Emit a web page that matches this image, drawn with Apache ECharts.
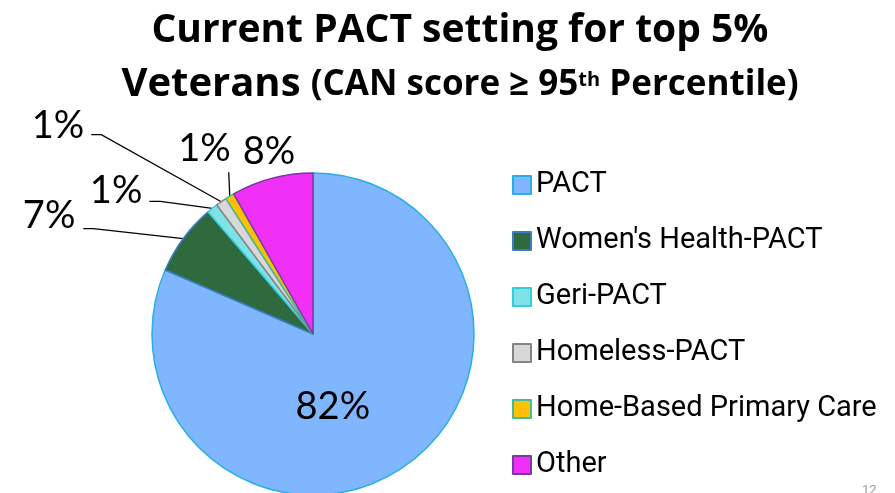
<!DOCTYPE html>
<html>
<head>
<meta charset="utf-8">
<title>Current PACT setting for top 5% Veterans</title>
<script src="https://cdn.jsdelivr.net/npm/echarts@6/dist/echarts.min.js"></script>
<style>
  html, body { margin: 0; padding: 0; background: #fff; }
  #chart { width: 895px; height: 493px; }
</style>
</head>
<body>
<div id="chart"></div>
<script>
// data
const settings = ['PACT', "Women's Health-PACT", 'Geri-PACT', 'Homeless-PACT', 'Home-Based Primary Care', 'Other']
const shares = [81.5, 7.2, 1.1, 1.1, 0.9, 8.2]

const fills = ['#7fb6fd', '#2e6a3e', '#7fe2e6', '#d8d8d8', '#ffc000', '#f030f6']
const borders = ['#29aee4', '#3b7cc4', '#35cdd8', '#858585', '#3fbca0', '#7a3aa0']

// where each outside label goes, relative to the point where its line leaves the slice
// end: end of the leader line, knee: length of the flat bit, text: label anchor from line end
const labelSpots = [
  null,
  { end: [-100, -10], knee: 10, text: [-8, -13], align: 'right' },
  { end: [-63, -7], knee: 11, text: [-7, -11], align: 'right' },
  { end: [-130, -67], knee: 10, text: [-7, -9], align: 'right' },
  { end: [-1, -24], knee: 0, text: [2, -23], align: 'right' },
  { end: [0, 0], knee: 0, text: [-3, -27], align: 'center' }
]
const insideShift = [-26, 3]

const chart = echarts.init(document.getElementById('chart'))

const bold = { fontFamily: 'Open Sans', fontWeight: 'bold', color: '#000' }

chart.setOption({
  animation: false,
  title: {
    text: 'Current PACT setting for top 5%\n{v|Veterans} {p|(CAN score ≥ 95}{s|th}{p| Percentile)}',
    left: 460,
    top: 4,
    padding: 0,
    textAlign: 'center',
    textStyle: Object.assign({
      fontSize: 39,
      lineHeight: 54,
      rich: {
        v: Object.assign({ fontSize: 40, lineHeight: 54 }, bold),
        p: Object.assign({ fontSize: 35, lineHeight: 54 }, bold),
        s: Object.assign({ fontSize: 20, lineHeight: 54, verticalAlign: 'top', padding: [12, 0, 0, 0] }, bold)
      }
    }, bold)
  },
  legend: {
    orient: 'vertical',
    left: 512,
    top: 170,
    padding: 0,
    itemWidth: 18,
    itemHeight: 18,
    itemGap: 26,
    icon: 'rect',
    textStyle: {
      fontFamily: 'Roboto',
      fontSize: 29,
      lineHeight: 30,
      color: '#000'
    },
    data: settings
  },
  graphic: [{
    type: 'text',
    left: 862,
    top: 484,
    style: { text: '12', fontSize: 13, fontFamily: 'Roboto', fill: '#9a9a9a' }
  }],
  series: [{
    type: 'pie',
    center: [313, 334],
    radius: 161,
    startAngle: 90,
    clockwise: true,
    percentPrecision: 0,
    avoidLabelOverlap: false,
    label: {
      show: true,
      position: 'outside',
      formatter: '{d}%',
      fontFamily: 'Lato',
      fontSize: 38,
      color: '#000'
    },
    labelLine: {
      show: true,
      length: 10,
      length2: 10,
      lineStyle: { color: '#000', width: 1.3 }
    },
    labelLayout: function (params) {
      const spot = labelSpots[params.dataIndex]
      if (!spot) {
        return { dx: insideShift[0], dy: insideShift[1] }
      }
      const a = params.labelLinePoints[0]
      const e = [a[0] + spot.end[0], a[1] + spot.end[1]]
      const k = [e[0] + spot.knee, e[1]]
      return {
        x: e[0] + spot.text[0],
        y: e[1] + spot.text[1],
        align: spot.align,
        verticalAlign: 'middle',
        labelLinePoints: [a, k, e]
      }
    },
    data: settings.map((name, i) => ({
      name: name,
      value: shares[i],
      itemStyle: { color: fills[i], borderColor: borders[i], borderWidth: 1.5 },
      label: i === 0 ? { position: 'inside' } : undefined
    }))
  }]
})
</script>
</body>
</html>
